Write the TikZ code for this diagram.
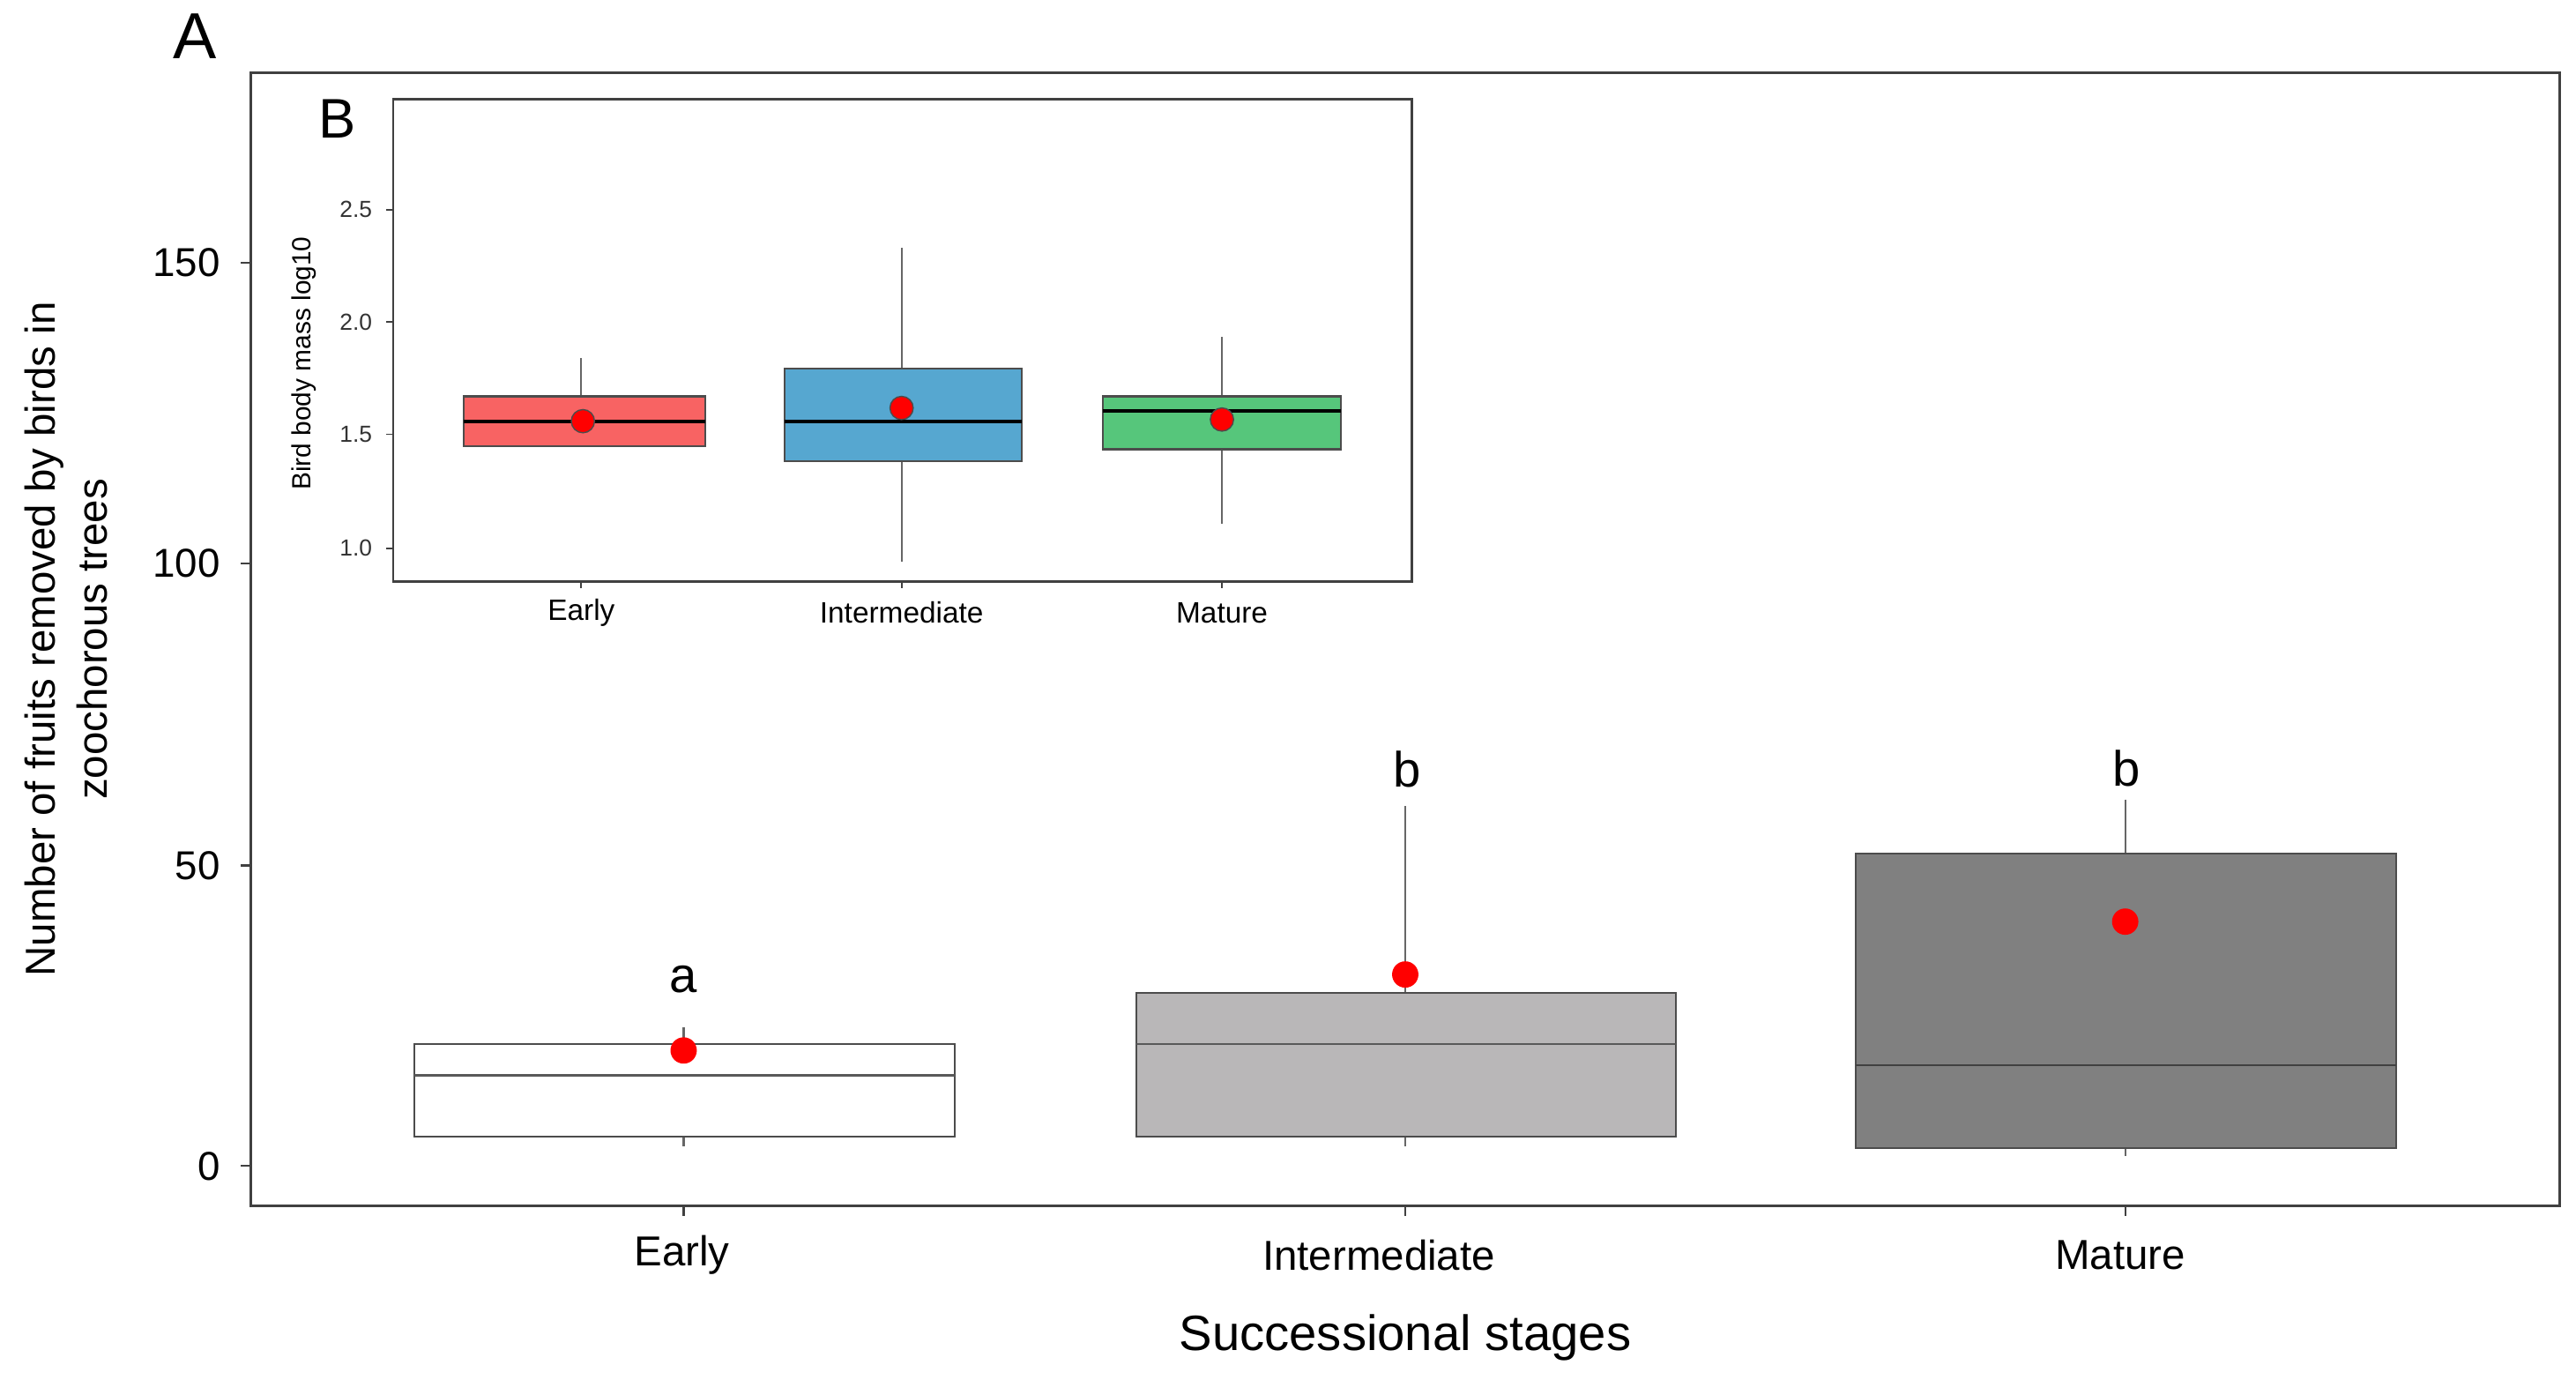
\documentclass[tikz,border=0pt]{standalone}
\usepackage{fontspec}
\setmainfont{Liberation Sans}
\begin{document}
\begin{tikzpicture}[x=0.01873cm,y=-0.01873cm,
  frame/.style={draw=black!75,line width=0.8pt},
  bx/.style={draw=black!70,line width=0.6pt},
  wh/.style={draw=black!60,line width=0.6pt},
  med/.style={draw=black!65,line width=0.7pt},
  mean/.style={circle,fill=red,inner sep=0pt,minimum size=8.5pt},
  meanb/.style={circle,fill=red,draw=black!70,inner sep=0pt,minimum size=7.5pt},
  tick/.style={font=\fontsize{13}{15}\selectfont,anchor=east},
  cat/.style={font=\fontsize{13.5}{16}\selectfont},
  itick/.style={font=\fontsize{7.5}{9}\selectfont,anchor=east,text=black!80},
  icat/.style={font=\fontsize{9.5}{11}\selectfont}]
\useasboundingbox (0,0) rectangle (1560,835);
% main frame
\draw[frame] (152,44) rectangle (1550,730);
\node[font=\fontsize{21}{24}\selectfont] (A) at (118,22) {A};
% y ticks
\foreach \v/\y in {0/706,50/524,100/341,150/159}{
  \draw[black!75,line width=0.6pt] (146,\y) -- (152,\y);
  \node[tick] (t\v) at (140,\y) {\v};}
\foreach \x in {414,851,1287} \draw[black!75,line width=0.6pt] (\x,730) -- (\x,736);
\node[cat] (ce) at (413,760) {Early};
\node[cat] (ci) at (835,760) {Intermediate};
\node[cat] (cm) at (1284,760) {Mature};
\node[font=\fontsize{16}{19}\selectfont] (xl) at (851,810) {Successional stages};
\node[font=\fontsize{13.5}{17}\selectfont,rotate=90,align=center] (yl) at (40,387) {Number of fruits removed by birds in\\zoochorous trees};
% boxes
\draw[wh] (414,622) -- (414,694);
\draw[bx,fill=white] (251,632) rectangle (578,688);
\draw[med] (251,651) -- (578,651);
\node[mean] (m1) at (414,636) {};
\node[font=\fontsize{16}{19}\selectfont] (la) at (414,593) {a};
\draw[wh] (851,488) -- (851,694);
\draw[bx,fill={rgb,255:red,185;green,183;blue,184}] (688,601) rectangle (1015,688);
\draw[med] (688,632) -- (1015,632);
\node[mean] (m2) at (851,590) {};
\node[font=\fontsize{16}{19}\selectfont] (lb1) at (852,466) {b};
\draw[wh] (1287,484) -- (1287,700);
\draw[bx,fill={rgb,255:red,128;green,128;blue,128}] (1124,517) rectangle (1451,695);
\draw[med,draw=black!75] (1124,645) -- (1451,645);
\node[mean] (m3) at (1287,558) {};
\node[font=\fontsize{16}{19}\selectfont] (lb2) at (1288,465) {b};
% inset
\draw[frame,fill=white,line width=0.7pt] (238,60) rectangle (855,352);
\node[font=\fontsize{18}{21}\selectfont] (B) at (204,72) {B};
\foreach \v/\y in {2.5/127,2.0/195,1.5/263,1.0/332}{
  \draw[black!75,line width=0.5pt] (234,\y) -- (238,\y);
  \node[itick] (it\v) at (232,\y) {\v};}
\foreach \x in {352,546,740} \draw[black!75,line width=0.5pt] (\x,352) -- (\x,356);
\node[font=\fontsize{8.5}{10}\selectfont,rotate=90] (iyl) at (184,220) {Bird body mass log10};
\node[icat] (ie) at (352,371) {Early};
\node[icat] (ii) at (546,371) {Intermediate};
\node[icat] (im) at (740,371) {Mature};
\draw[wh] (352,217) -- (352,240);
\draw[bx,fill={rgb,255:red,248;green,99;blue,99}] (281,240) rectangle (427,270);
\draw[black,line width=1.1pt] (281,255) -- (427,255);
\node[meanb] (b1) at (353,255) {};
\draw[wh] (546,150) -- (546,340);
\draw[bx,fill={rgb,255:red,86;green,167;blue,208}] (475,223) rectangle (619,279);
\draw[black,line width=1.1pt] (475,255) -- (619,255);
\node[meanb] (b2) at (546,247) {};
\draw[wh] (740,204) -- (740,317);
\draw[bx,fill={rgb,255:red,86;green,198;blue,123}] (668,240) rectangle (812,272);
\draw[black,line width=1.1pt] (668,249) -- (812,249);
\node[meanb] (b3) at (740,254) {};
\end{tikzpicture}
\end{document}
